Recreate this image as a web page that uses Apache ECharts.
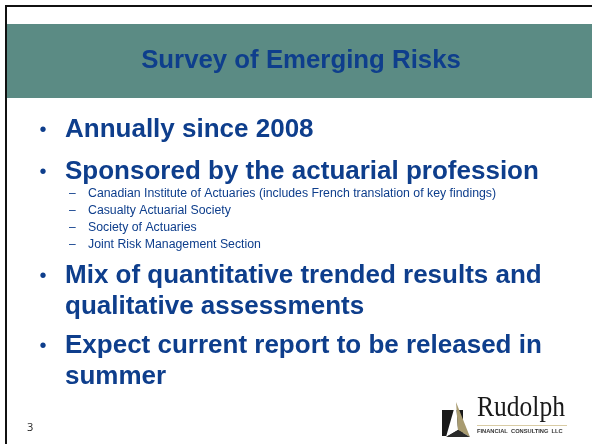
<!DOCTYPE html>
<html><head><meta charset="utf-8">
<script src="https://cdn.jsdelivr.net/npm/echarts@6/dist/echarts.min.js"></script>
<style>html,body{margin:0;padding:0;background:#fff}#c{width:592px;height:444px}</style>
</head><body><div id="c"></div>
<script>
const titleText = 'Survey of Emerging Risks';
const mainBullets = [
  ['Annually since 2008'],
  ['Sponsored by the actuarial profession'],
  ['Mix of quantitative trended results and', 'qualitative assessments'],
  ['Expect current report to be released in', 'summer']
];
const subBullets = [
  'Canadian Institute of Actuaries (includes French translation of key findings)',
  'Casualty Actuarial Society',
  'Society of Actuaries',
  'Joint Risk Management Section'
];
const pageNumber = '3';
const logoName = 'Rudolph';
const logoTagline = 'FINANCIAL  CONSULTING  LLC';

const SANS = '"Liberation Sans", Arial, sans-serif';
const SERIF = '"Liberation Serif", "Times New Roman", serif';
const BLUE = '#0E3E8C';
const els = [];

// frame and title band
els.push({type:'rect', shape:{x:5,y:5,width:587,height:2}, style:{fill:'#111'}});
els.push({type:'rect', shape:{x:5,y:5,width:2,height:439}, style:{fill:'#111'}});
els.push({type:'rect', shape:{x:7,y:24,width:585,height:74}, style:{fill:'#5B8B84'}});
els.push({type:'text', x:301, y:61, style:{text:titleText, fontFamily:SANS, fontWeight:'bold', fontSize:25.8, fill:BLUE, align:'center', verticalAlign:'middle'}});

function mainLine(txt, y, withDot){
  if (withDot) els.push({type:'text', x:43, y:y, style:{text:'•', fontFamily:SANS, fontSize:20, fill:BLUE, align:'center', verticalAlign:'middle'}});
  els.push({type:'text', x:65, y:y, style:{text:txt, fontFamily:SANS, fontWeight:'bold', fontSize:26, fill:BLUE, align:'left', verticalAlign:'middle'}});
}
const mainY = [[130],[172],[276,307],[346,377]];
mainBullets.forEach((lines,i)=>lines.forEach((t,j)=>mainLine(t, mainY[i][j], j===0)));

const subY = [194,211,228,245];
subBullets.forEach((t,i)=>{
  els.push({type:'text', x:69, y:subY[i], style:{text:'–', fontFamily:SANS, fontSize:12, fill:BLUE, align:'left', verticalAlign:'middle'}});
  els.push({type:'text', x:88, y:subY[i], style:{text:t, fontFamily:SANS, fontSize:12.3, fill:BLUE, align:'left', verticalAlign:'middle'}});
});

els.push({type:'text', x:27, y:428, style:{text:pageNumber, fontFamily:'"Open Sans", "DejaVu Sans", sans-serif', fontSize:11, fill:'#222', align:'left', verticalAlign:'middle'}});

// logo
els.push({type:'rect', shape:{x:442,y:410,width:21,height:26}, style:{fill:'#1a1a1a'}});
els.push({type:'polygon', shape:{points:[[456,402],[446,437],[458,430]]}, style:{fill:'#ffffff'}});
els.push({type:'polygon', shape:{points:[[456,402],[458,430],[470,437]]}, style:{fill:'#A89B70'}});
els.push({type:'polygon', shape:{points:[[446,437],[458,430],[470,437]]}, style:{fill:'#2a2a2a'}});
els.push({type:'text', x:477, y:423, scaleX:0.88, style:{text:logoName, fontFamily:SERIF, fontSize:29, fill:'#1a1a1a', align:'left', verticalAlign:'bottom'}});
els.push({type:'rect', shape:{x:477,y:425,width:90,height:1}, style:{fill:'#D9CCA5'}});
els.push({type:'text', x:477, y:432, scaleX:1.08, style:{text:logoTagline, fontFamily:SANS, fontWeight:'bold', fontSize:5.3, fill:'#333', align:'left', verticalAlign:'middle'}});

const chart = echarts.init(document.getElementById('c'), null, {renderer:'canvas'});
chart.setOption({backgroundColor:'#fff', animation:false, graphic:{elements:els}});
</script></body></html>
